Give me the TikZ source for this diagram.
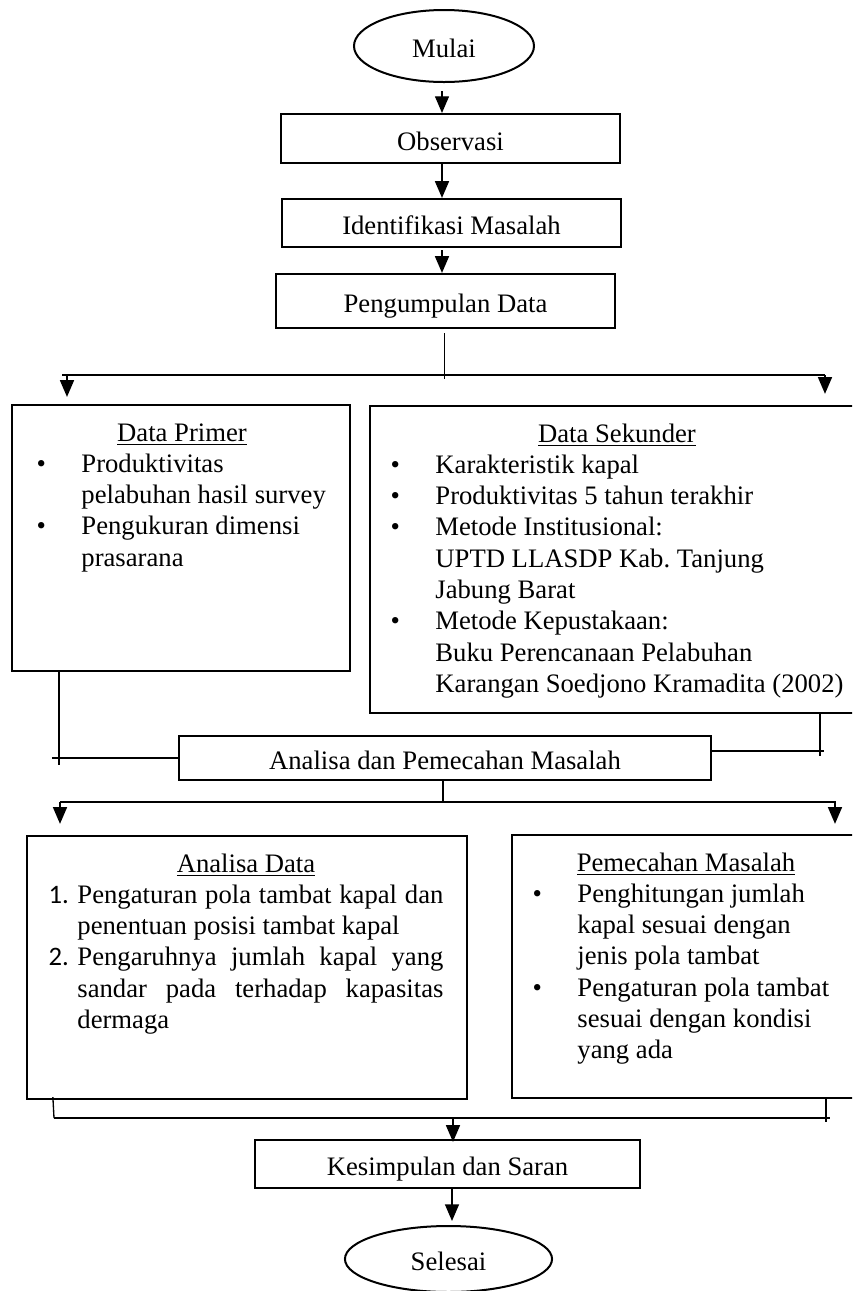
\documentclass[tikz,border=0pt]{standalone}
\usepackage{fontspec}
\setmainfont{Liberation Serif}
\newfontfamily\numfont{Carlito}
\usetikzlibrary{shapes.geometric,arrows.meta,calc}

\newcommand{\bul}{\llap{\textbullet\hspace{16pt}}}
\newcommand{\nomor}[1]{\llap{\makebox[13pt][l]{\numfont #1}}}
\newcommand{\jus}[1]{\makebox[164.7pt][s]{#1}}

\tikzset{
  >={Triangle[width=6.3pt,length=7.5pt]},
  kotak/.style={
    rectangle,
    draw=black, line width=1pt,
    inner sep=0pt,
    text height=10.6pt, text depth=0pt},
  oval/.style={
    ellipse,
    draw=black, line width=0.9pt,
    inner sep=0pt,
    text height=10.6pt, text depth=0pt},
  line/.style={draw, line width=0.6pt},
  arr/.style={line, ->},
  judul/.style={anchor=base, inner sep=0pt},
  isi/.style={anchor=base west, inner sep=0pt},
}

\begin{document}
\begin{tikzpicture}[x=0.45pt, y=-0.45pt, font=\fontsize{12pt}{14.1pt}\selectfont\frenchspacing]
  \useasboundingbox (0,0) rectangle (852,1291);
  \clip (0,0) rectangle (852,1291);

  % alur atas
  \node[oval, minimum width=81pt, minimum height=32.4pt] (mulai) at (444,46) {Mulai};
  \node[kotak, minimum width=152.6pt, minimum height=22pt] (observasi) at (450.5,138.5) {Observasi};
  \node[kotak, minimum width=152.6pt, minimum height=21.6pt] (identifikasi) at (451.5,223) {Identifikasi Masalah};
  \node[kotak, minimum width=152.6pt, minimum height=24.3pt] (kumpul) at (445.5,301) {Pengumpulan Data};

  % data primer dan sekunder
  \node[kotak, minimum width=152.1pt, minimum height=119.7pt] (primer) at (181,538) {};
  \node[kotak, minimum width=225pt, minimum height=138.2pt] (sekunder) at (620,559.5) {};
  \node[judul] (primerJudul) at (182,441) {\underline{Data Primer}};
  \node[isi] (primerIsi) at (81,472) {\begin{tabular}[t]{@{}l@{}}
    \bul Produktivitas\\
    pelabuhan hasil survey\\
    \bul Pengukuran dimensi\\
    prasarana
  \end{tabular}};
  \node[judul] (sekunderJudul) at (617,442) {\underline{Data Sekunder}};
  \node[isi] (sekunderIsi) at (435,473) {\begin{tabular}[t]{@{}l@{}}
    \bul Karakteristik kapal\\
    \bul Produktivitas 5 tahun terakhir\\
    \bul Metode Institusional:\\
    UPTD LLASDP Kab.\ Tanjung\\
    Jabung Barat\\
    \bul Metode Kepustakaan:\\
    Buku Perencanaan Pelabuhan\\
    Karangan Soedjono Kramadita (2002)
  \end{tabular}};

  \node[kotak, minimum width=239.4pt, minimum height=19.8pt] (analisa) at (445,758) {Analisa dan Pemecahan Masalah};

  % analisa data dan pemecahan masalah
  \node[kotak, minimum width=198pt, minimum height=118.4pt] (anData) at (247,967.5) {};
  \node[kotak, minimum width=161.1pt, minimum height=118.4pt] (pecah) at (691,966.5) {};
  \node[judul] (anDataJudul) at (246,872) {\underline{Analisa Data}};
  \node[isi] (anDataIsi) at (77,903) {\begin{tabular}[t]{@{}l@{}}
    \nomor{1.}\jus{Pengaturan pola tambat kapal dan}\\
    penentuan posisi tambat kapal\\
    \nomor{2.}\jus{Pengaruhnya jumlah kapal yang}\\
    \jus{sandar pada terhadap kapasitas}\\
    dermaga
  \end{tabular}};
  \node[judul] (pecahJudul) at (686,871) {\underline{Pemecahan Masalah}};
  \node[isi] (pecahIsi) at (577,902) {\begin{tabular}[t]{@{}l@{}}
    \bul Penghitungan jumlah\\
    kapal sesuai dengan\\
    jenis pola tambat\\
    \bul Pengaturan pola tambat\\
    sesuai dengan kondisi\\
    yang ada
  \end{tabular}};

  \node[kotak, minimum width=173.3pt, minimum height=21.6pt] (simpul) at (447.5,1164) {Kesimpulan dan Saran};
  \node[oval, minimum width=93.2pt, minimum height=29.7pt] (selesai) at (448.5,1259) {Selesai};

  % panah alur atas
  \draw[arr] ($(mulai.south)+(-2,8)$) -- ($(mulai.south |- observasi.north)+(-2,0)$);
  \draw[arr] ($(mulai.south |- observasi.south)+(-2,0)$) -- ($(mulai.south |- identifikasi.north)+(-2,0)$);
  \draw[arr] ($(mulai.south |- identifikasi.south)+(-2,2)$) -- ($(mulai.south |- kumpul.north)+(-2,0)$);

  % cabang ke data
  \coordinate (bagiL) at (62,375);
  \coordinate (bagiR) at (825,375);
  \draw[line] ($(kumpul.south)+(-1,4)$) -- ($(kumpul.south |- bagiL)+(-1,4)$);
  \draw[line] (bagiL) -- (bagiR);
  \draw[arr] ($(bagiL)+(5,0)$) -- ($(bagiL |- primer.north)+(5,-7)$);
  \draw[arr] (bagiR) -- ($(bagiR |- sekunder.north)+(0,-11)$);

  % gabung ke analisa
  \draw[line] ($(primer.south west)+(48,-2)$) -- ++(0,95);
  \draw[line] ($(analisa.west)+(-126,0)$) -- (analisa.west);
  \draw[line] ($(sekunder.south west)+(451,0)$) -- ++(0,42);
  \draw[line] ($(analisa.east)+(0,-7)$) -- ++(112,0);

  % cabang ke analisa data / pemecahan
  \coordinate (bagi2L) at (60,802);
  \coordinate (bagi2R) at (836,802);
  \draw[line] ($(analisa.south)+(-2,0)$) -- ($(analisa.south |- bagi2L)+(-2,0)$);
  \draw[line] (bagi2L) -- (bagi2R);
  \draw[arr] (bagi2L) -- ($(bagi2L |- anData.north)+(0,-11)$);
  \draw[arr] ($(bagi2R)+(-1,0)$) -- ($(bagi2R |- pecah.north)+(-1,-10)$);

  % gabung ke kesimpulan
  \coordinate (gabungL) at (54,1118);
  \coordinate (gabungR) at (830,1118);
  \draw[line] ($(anData.south west)+(27,-3)$) -- (gabungL);
  \draw[line] ($(pecah.south west)+(315,0)$) -- ++(0,23);
  \draw[line] (gabungL) -- (gabungR);
  \draw[arr] ($(gabungL -| simpul.north)+(5.5,0)$) -- ($(simpul.north)+(5.5,3)$);
  \draw[arr] ($(simpul.south)+(4.5,0)$) -- ($(simpul.south |- selesai.north)+(4.5,-4)$);
\end{tikzpicture}
\end{document}
